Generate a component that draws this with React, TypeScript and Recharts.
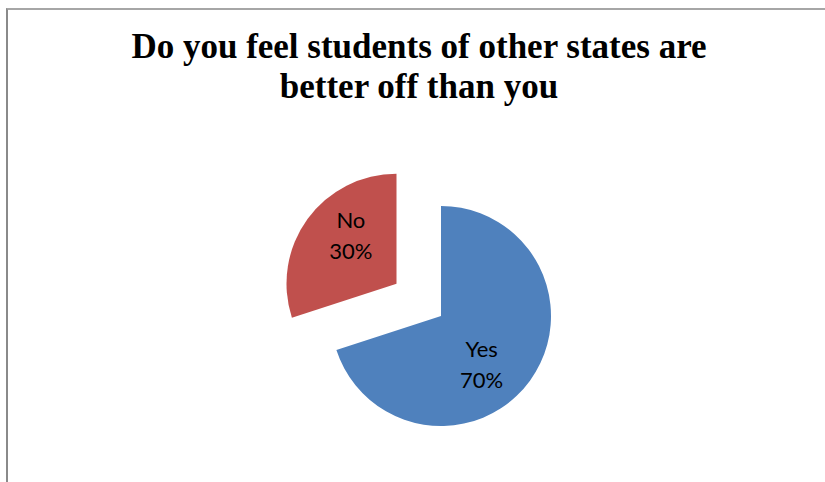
import React from 'react'
import { PieChart, Pie, Cell } from 'recharts'

const categories = ['Yes', 'No']
const shares = [70, 30]
const sliceColors = ['#4F81BD', '#C0504D']

const data = categories.map((name, i) => ({ name, value: shares[i] }))

const RADIAN = Math.PI / 180
const CX = 441
const CY = 316
const R = 110
const START = 90
const END = -270
const EXPLODED = 1 // index of the pulled-out slice ("No")
const EXPLODE_DIST = 55
// small hand nudges so labels sit where Excel's best-fit put them
const LABEL_NUDGE: [number, number][] = [[-11, 11], [6, -10]]

const total = shares.reduce((a, b) => a + b, 0)
const before = shares.slice(0, EXPLODED).reduce((a, b) => a + b, 0)
const explodedMid = START + (END - START) * (before + shares[EXPLODED] / 2) / total
const offX = EXPLODE_DIST * Math.cos(-explodedMid * RADIAN)
const offY = EXPLODE_DIST * Math.sin(-explodedMid * RADIAN)

function makeLabel(showIndex: (i: number) => boolean) {
  return (props: any) => {
    const { cx, cy, midAngle, outerRadius, index, name, percent } = props
    if (!showIndex(index)) return null
    const r = outerRadius * 0.58
    const [nx, ny] = LABEL_NUDGE[index] ?? [0, 0]
    const x = cx + r * Math.cos(-midAngle * RADIAN) + nx
    const y = cy + r * Math.sin(-midAngle * RADIAN) + ny
    return (
      <text key={`lbl-${index}`} x={x} y={y - 8} textAnchor="middle" fill="#000"
        style={{ fontFamily: 'Lato, "Open Sans", sans-serif', fontSize: 22 }}>
        <tspan x={x}>{name}</tspan>
        <tspan x={x} dy={31}>{`${Math.round(percent * 100)}%`}</tspan>
      </text>
    )
  }
}

export default function App() {
  return (
    <div style={{ position: 'absolute', left: 0, top: 0, width: 825, height: 482, background: '#fff', overflow: 'hidden' }}>
      <div style={{
        position: 'absolute', left: 6, top: 8, width: 900, height: 600,
        borderLeft: '2px solid #8a8a8a', borderTop: '2px solid #a6a6a6'
      }} />
      <div style={{
        position: 'absolute', left: 0, width: 838, top: 27, textAlign: 'center',
        fontFamily: '"Liberation Serif", "Times New Roman", serif', fontWeight: 'bold',
        fontSize: 35, lineHeight: '39.5px', color: '#000', whiteSpace: 'nowrap'
      }}>
        Do you feel students of other states are<br />better off than you
      </div>
      <div style={{ position: 'absolute', left: 0, top: 0 }}>
        <PieChart width={825} height={482} margin={{ top: 0, right: 0, bottom: 0, left: 0 }}>
          <Pie data={data} dataKey="value" nameKey="name" cx={CX} cy={CY} outerRadius={R}
            startAngle={START} endAngle={END} stroke="none" isAnimationActive={false}
            labelLine={false} label={makeLabel(i => i !== EXPLODED)}>
            {data.map((d, i) => (
              <Cell key={d.name} fill={i === EXPLODED ? 'none' : sliceColors[i]} stroke="none" />
            ))}
          </Pie>
          <Pie data={data} dataKey="value" nameKey="name" cx={CX + offX} cy={CY + offY} outerRadius={R}
            startAngle={START} endAngle={END} stroke="none" isAnimationActive={false}
            labelLine={false} label={makeLabel(i => i === EXPLODED)}>
            {data.map((d, i) => (
              <Cell key={d.name} fill={i === EXPLODED ? sliceColors[i] : 'none'} stroke="none" />
            ))}
          </Pie>
        </PieChart>
      </div>
    </div>
  )
}
